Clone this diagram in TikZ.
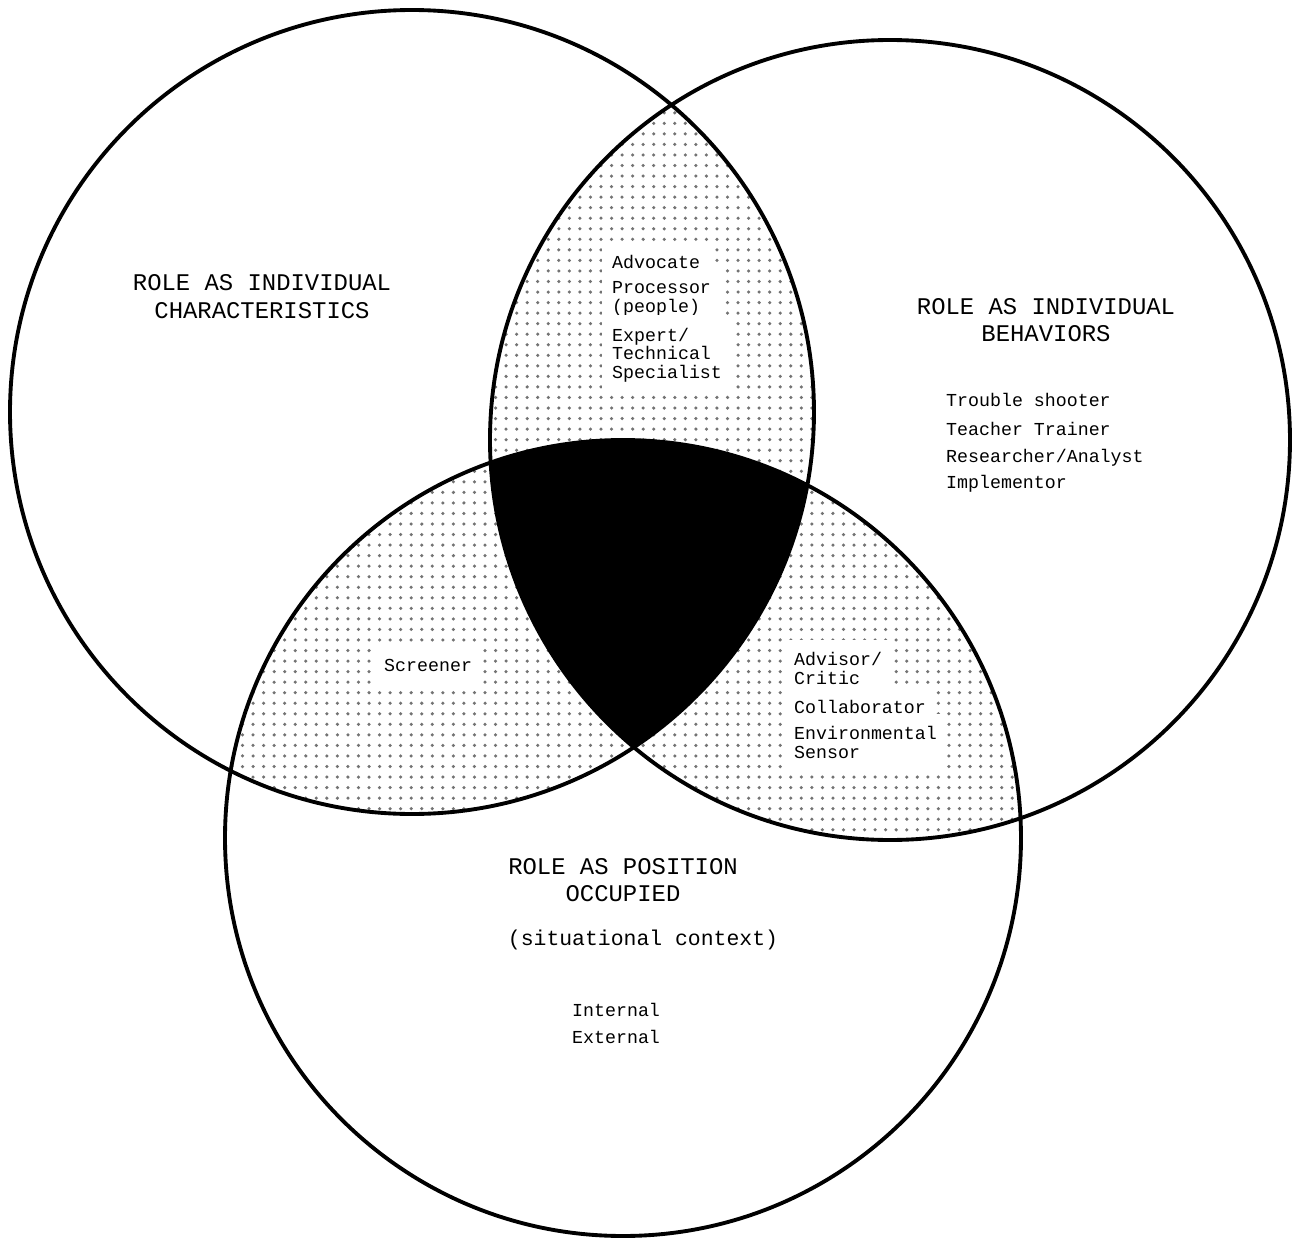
\documentclass[tikz,border=0pt]{standalone}
\usepackage{fontspec}
\setmonofont{Liberation Mono}
\usetikzlibrary{patterns}

\tikzset{
  ring/.style={line width=1.1pt},
  lightshade/.style={pattern=dots, pattern color=black!55},
  headtext/.style={font=\ttfamily\fontsize{6.8}{7.9}\selectfont, align=center, inner sep=1pt},
  listtext/.style={font=\ttfamily\fontsize{5.2}{5.3}\selectfont, align=left, anchor=west, inner sep=1pt},
  lenstext/.style={listtext, fill=white, inner xsep=3pt, inner ysep=3.6pt},
}

\begin{document}
\begin{tikzpicture}
\useasboundingbox (0,0) rectangle (12.92,-12.41);

% Circle centres
\coordinate (cchar) at (4.12,-4.12);
\coordinate (cbeh) at (8.90,-4.40);
\coordinate (cpos) at (6.23,-8.38);

% Pairwise overlaps (dotted)
\begin{scope}
  \clip (cchar) circle (4.02);
  \fill[lightshade] (cbeh) circle (4.00);
\end{scope}
\begin{scope}
  \clip (cchar) circle (4.02);
  \fill[lightshade] (cpos) circle (3.98);
\end{scope}
\begin{scope}
  \clip (cbeh) circle (4.00);
  \fill[lightshade] (cpos) circle (3.98);
\end{scope}

% Overlap of all three
\begin{scope}
  \clip (cchar) circle (4.02);
  \clip (cbeh) circle (4.00);
  \fill[black] (cpos) circle (3.98);
\end{scope}

% Outlines
\draw[ring] (cchar) circle (4.02);
\draw[ring] (cbeh) circle (4.00);
\draw[ring] (cpos) circle (3.98);

% Left circle
\node[headtext] (charhead) at (2.62,-2.97) {ROLE AS INDIVIDUAL\\CHARACTERISTICS};

% Right circle
\node[headtext] (behhead) at (10.46,-3.20) {ROLE AS INDIVIDUAL\\BEHAVIORS};
\node[listtext] (trouble) at (9.42,-4.00) {Trouble shooter};
\node[listtext] (teacher) at (9.42,-4.29) {Teacher Trainer};
\node[listtext] (research) at (9.42,-4.58) {Researcher/Analyst};
\node[listtext] (implement) at (9.42,-4.84) {Implementor};

% Top overlap
\node[lenstext] (advocate) at (6.01,-2.62) {Advocate};
\node[lenstext] (processor) at (6.01,-2.99) {Processor\\(people)};
\node[lenstext] (expert) at (6.01,-3.55) {Expert/\\Technical\\Specialist};

% Lower left overlap
\node[lenstext] (screener) at (3.73,-6.65) {Screener};

% Lower right overlap
\node[lenstext] (advisor) at (7.83,-6.685) {Advisor/\\Critic};
\node[lenstext] (collab) at (7.83,-7.07) {Collaborator};
\node[lenstext] (sensor) at (7.83,-7.425) {Environmental\\Sensor};

% Bottom circle
\node[headtext] (poshead) at (6.23,-8.80) {ROLE AS POSITION\\OCCUPIED};
\node[headtext, font=\ttfamily\fontsize{6.1}{7}\selectfont] (context) at (6.43,-9.40) {(situational context)};
\node[listtext] (internal) at (5.68,-10.10) {Internal};
\node[listtext] (external) at (5.68,-10.37) {External};

\end{tikzpicture}
\end{document}
